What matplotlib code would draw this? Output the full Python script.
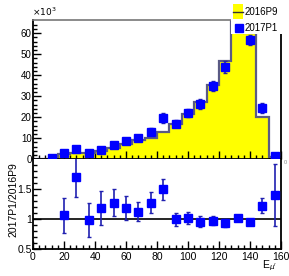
"""Energy spectrum 2017P1 vs 2016P9 with ratio pad (ROOT-like style)."""
import matplotlib
matplotlib.use("Agg")
import matplotlib.pyplot as plt
import numpy as np

plt.rcParams["font.family"] = ["Liberation Sans", "DejaVu Sans"]

# bin edges (width 8) and reference histogram, units of 10^3
edges = np.arange(0, 168, 8)
hist_2016 = [0, 0, 2.7, 2.8, 2.9, 3.9, 5.5, 7.5, 9.1, 10.3, 13.1, 17.0, 21.4,
             27.4, 35.6, 46.7, 68.0, 60.0, 20.0, 1.1]

# 2017P1 points (bin centres), values and errors, units of 10^3
pts_x = [12, 20, 28, 36, 44, 52, 60, 68, 76, 84, 92, 100, 108, 116, 124, 132, 140, 148, 156]
pts_y = [0.8, 2.9, 4.8, 2.9, 4.6, 7.0, 8.9, 10.3, 13.2, 19.7, 17.0, 22.0, 26.3,
         34.9, 43.9, 70.0, 56.7, 24.6, 1.5]
pts_err = [0.3, 0.8, 0.9, 0.8, 0.9, 1.1, 1.3, 1.3, 1.6, 2.5, 1.7, 2.1, 2.3,
           2.4, 2.8, 3.0, 2.5, 2.4, 0.7]

# ratio 2017P1/2016P9
ratio_x = [20, 28, 36, 44, 52, 60, 68, 76, 84, 92, 100, 108, 116, 124, 132, 140, 148, 156]
ratio_y = [1.07, 1.71, 0.99, 1.19, 1.28, 1.19, 1.13, 1.28, 1.50, 1.00, 1.03,
           0.96, 0.98, 0.94, 1.03, 0.96, 1.23, 1.41]
ratio_err = [0.29, 0.33, 0.28, 0.28, 0.23, 0.20, 0.16, 0.17, 0.17, 0.11, 0.10,
             0.09, 0.07, 0.06, 0.05, 0.04, 0.12, 0.52]

legend_labels = ["2016P9", "2017P1"]

W, H = 289, 276
fig = plt.figure(figsize=(W / 100, H / 100), dpi=100)
L, R = 33 / W, 281 / W
y0 = (H - 159.3) / H
ax = fig.add_axes([L, y0, R - L, (H - 20) / H - y0])
y1 = (H - 249.3) / H
axr = fig.add_axes([L, y1, R - L, y0 - y1])

blue = "#0000ff"
ebar = "#2020b0"


def fx(px):
    return px / W


def fy(py):
    return (H - py) / H


# upper pad
ax.stairs(hist_2016, edges, fill=True, color="#ffff00", zorder=1)
ax.stairs(hist_2016, edges, color="#5a5a84", lw=1.6, zorder=2)
ax.errorbar(pts_x, pts_y, yerr=pts_err, fmt="s", color=blue, ms=6, mec=blue,
            ecolor=ebar, elinewidth=1.2, capsize=1.5, zorder=3)
ax.set_xlim(0, 160)
ax.set_ylim(0, 66.3)
ax.set_yticks([0, 10, 20, 30, 40, 50, 60])
ax.set_yticks(np.arange(0, 66, 2), minor=True)
ax.set_xticks(np.arange(0, 161, 20))
ax.set_xticks(np.arange(0, 161, 4), minor=True)
ax.tick_params(axis="both", which="both", direction="in", labelsize=7, width=1)
ax.tick_params(which="major", length=6)
ax.tick_params(which="minor", length=3)
ax.tick_params(axis="x", labelbottom=False)
ax.tick_params(axis="y", pad=1)
for s in ["left", "bottom", "right"]:
    ax.spines[s].set_linewidth(1.3)
ax.spines["top"].set_color("#777777")
ax.spines["top"].set_linewidth(1.2)

# legend box drawn by hand, ROOT style (white, no border)
fig.add_artist(plt.Rectangle((fx(231), fy(34)), fx(289) - fx(231), fy(0) - fy(34),
                             transform=fig.transFigure, facecolor="white",
                             edgecolor="none", zorder=9))
fig.add_artist(plt.Rectangle((fx(233), fy(19)), fx(10), fy(4) - fy(19),
                             transform=fig.transFigure, facecolor="#ffff00",
                             edgecolor="none", zorder=10))
fig.add_artist(plt.Line2D([fx(233), fx(243)], [fy(12), fy(12)], color="#333333",
                          lw=1, zorder=11))
fig.add_artist(plt.Line2D([fx(238.5)], [fy(27.5)], marker="s", ms=6, color=blue,
                          ls="none", zorder=11))
fig.text(fx(245), fy(12), legend_labels[0], fontsize=7, ha="left", va="center", zorder=12)
fig.text(fx(245), fy(28), legend_labels[1], fontsize=7, ha="left", va="center", zorder=12)

fig.text(fx(32), fy(16), r"$\times10^{3}$", fontsize=6.5, ha="left", va="baseline")

# ratio pad
axr.axhline(1.0, color="black", lw=1.2, zorder=1)
axr.errorbar(ratio_x, ratio_y, yerr=ratio_err, fmt="s", color=blue, ms=6, mec=blue,
             ecolor=ebar, elinewidth=1.2, capsize=1.5, zorder=3)
axr.set_xlim(0, 160)
axr.set_ylim(0.5, 2.0)
axr.set_yticks([0.5, 1.0, 1.5])
axr.set_yticklabels(["0.5", "1", "1.5"])
axr.set_yticks(np.arange(0.5, 2.0, 0.1), minor=True)
axr.set_xticks(np.arange(0, 161, 20))
axr.set_xticks(np.arange(0, 161, 4), minor=True)
axr.tick_params(axis="both", which="both", direction="in", labelsize=7.5, width=1)
axr.tick_params(which="major", length=6)
axr.tick_params(which="minor", length=3)
axr.tick_params(axis="y", pad=1)
axr.tick_params(axis="x", pad=2)
for s in ["left", "bottom", "right"]:
    axr.spines[s].set_linewidth(1.3)
axr.spines["top"].set_visible(False)

fig.text(fx(13), fy(200), "2017P1/2016P9", rotation=90, fontsize=7.5,
         ha="center", va="center")
fig.text(fx(277), fy(266), r"E$_{\mu'}$", fontsize=7.5, ha="right", va="center")
fig.text(fx(284), fy(163), "0", fontsize=4, color="#888888", ha="left", va="center")

fig.savefig("out.png", dpi=100)
